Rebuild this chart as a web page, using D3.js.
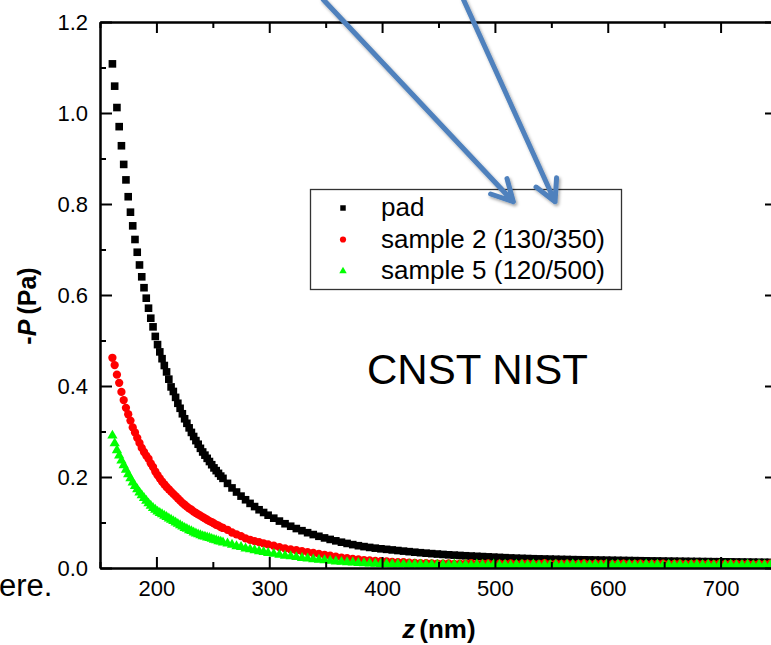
<!DOCTYPE html>
<html>
<head>
<meta charset="utf-8">
<script src="https://cdn.jsdelivr.net/npm/d3@7"></script>
<style>
  body { margin: 0; background: #fff; }
  svg { display: block; font-family: "Liberation Sans", Arial, sans-serif; }
</style>
</head>
<body>
<svg width="771" height="645"></svg>
<script>
// z (nm) - common grid for all three series
const zValues = [
  161,163,165,167,169,171,173,175,177,179,
  181,183,185,187,189,191,193,195,197,199,
  201,203,205,207,209,211,213,215,217,219,
  221,223,225,227,229,231,233,235,237,239,
  241,243,245,247,249,251,253,255,257,259,
  263,267,271,275,279,283,287,291,295,299,
  304,309,314,319,324,329,334,339,344,349,
  354,359,364,369,374,379,384,389,394,399,
  404,409,414,419,424,429,434,439,444,449,
  454,459,464,469,474,479,484,489,494,499,
  504,509,514,519,524,529,534,539,544,549,
  554,559,564,569,574,579,584,589,594,599,
  604,609,614,619,624,629,634,639,644,649,
  654,659,664,669,674,679,684,689,694,699,
  704,709,714,719,724,729,734,739,744,749
];

// -P (Pa), pad
const padValues = [
  1.108,1.059,1.012,0.970,0.928,0.887,0.853,0.816,0.782,0.752,
  0.722,0.694,0.666,0.640,0.616,0.593,0.571,0.549,0.530,0.509,
  0.491,0.475,0.460,0.445,0.431,0.415,0.398,0.388,0.375,0.362,
  0.351,0.339,0.328,0.318,0.308,0.298,0.289,0.280,0.272,0.263,
  0.255,0.248,0.241,0.234,0.227,0.220,0.214,0.208,0.202,0.197,
  0.186,0.176,0.167,0.158,0.150,0.142,0.135,0.128,0.122,0.116,
  0.1095,0.1031,0.0973,0.0918,0.0867,0.0820,0.0776,0.0735,0.0697,0.0661,
  0.0628,0.0597,0.0567,0.0540,0.0514,0.0490,0.0470,0.0452,0.0436,0.0422,
  0.0410,0.0397,0.0384,0.0371,0.0359,0.0347,0.0336,0.0326,0.0316,0.0307,
  0.0298,0.0290,0.0283,0.0276,0.0269,0.0263,0.0257,0.0251,0.0245,0.0239,
  0.0233,0.0227,0.0221,0.0216,0.0212,0.0208,0.0204,0.0201,0.0198,0.0195,
  0.0192,0.0189,0.0187,0.0184,0.0182,0.0180,0.0178,0.0176,0.0174,0.0172,
  0.0170,0.0168,0.0166,0.0164,0.0162,0.0160,0.0158,0.0156,0.0155,0.0153,
  0.0151,0.0150,0.0148,0.0147,0.0145,0.0144,0.0142,0.0141,0.0139,0.0138,
  0.0136,0.0135,0.0133,0.0132,0.0130,0.0129,0.0127,0.0126,0.0124,0.0123
];

// sample 2 (130/350)
const sample2Values = [
  0.462,0.446,0.425,0.407,0.387,0.369,0.352,0.338,0.324,0.309,
  0.298,0.286,0.275,0.264,0.255,0.247,0.240,0.230,0.222,0.212,
  0.204,0.197,0.190,0.184,0.178,0.173,0.168,0.163,0.158,0.153,
  0.148,0.143,0.139,0.135,0.131,0.128,0.124,0.121,0.118,0.115,
  0.112,0.109,0.106,0.103,0.101,0.098,0.095,0.093,0.090,0.088,
  0.084,0.078,0.074,0.070,0.065,0.062,0.059,0.057,0.054,0.052,
  0.049,0.046,0.043,0.041,0.039,0.037,0.035,0.033,0.031,0.029,
  0.027,0.025,0.023,0.0215,0.020,0.019,0.0175,0.0165,0.0158,0.015,
  0.0143,0.0136,0.013,0.0126,0.0118,0.0112,0.0108,0.0104,0.0101,0.0098,
  0.0095,0.0102,0.0089,0.0097,0.0093,0.0105,0.0088,0.0094,0.0099,0.0087,
  0.0096,0.0091,0.0101,0.0086,0.0093,0.0098,0.0089,0.0092,0.0104,0.0085,
  0.0094,0.0090,0.0097,0.0087,0.0092,0.0100,0.0086,0.0093,0.0089,0.0096,
  0.0084,0.0091,0.0098,0.0087,0.0090,0.0095,0.0083,0.0092,0.0088,0.0097,
  0.0085,0.0090,0.0094,0.0082,0.0089,0.0093,0.0086,0.0091,0.0084,0.0095,
  0.0083,0.0088,0.0092,0.0085,0.0089,0.0081,0.0090,0.0086,0.0093,0.0084
];

// sample 5 (120/500)
const sample5Values = [
  0.291,0.274,0.259,0.247,0.236,0.226,0.216,0.206,0.197,0.188,
  0.180,0.173,0.166,0.160,0.154,0.148,0.142,0.137,0.132,0.128,
  0.124,0.121,0.118,0.115,0.112,0.109,0.106,0.103,0.100,0.097,
  0.094,0.091,0.088,0.086,0.083,0.081,0.078,0.076,0.074,0.072,
  0.070,0.069,0.067,0.066,0.064,0.062,0.061,0.059,0.058,0.056,
  0.054,0.051,0.048,0.046,0.043,0.041,0.039,0.037,0.035,0.033,
  0.031,0.029,0.027,0.026,0.024,0.022,0.021,0.019,0.018,0.017,
  0.016,0.0145,0.0135,0.0125,0.012,0.0112,0.0105,0.0098,0.0094,0.0090,
  0.0087,0.0084,0.0082,0.0080,0.0078,0.0077,0.0076,0.0075,0.0074,0.0073,
  0.0072,0.0065,0.0078,0.0069,0.0074,0.0063,0.0076,0.0070,0.0067,0.0079,
  0.0068,0.0073,0.0062,0.0075,0.0071,0.0066,0.0077,0.0064,0.0072,0.0069,
  0.0074,0.0061,0.0070,0.0076,0.0065,0.0072,0.0068,0.0075,0.0063,0.0071,
  0.0067,0.0074,0.0060,0.0073,0.0069,0.0064,0.0076,0.0066,0.0070,0.0062,
  0.0072,0.0068,0.0075,0.0061,0.0069,0.0073,0.0065,0.0071,0.0063,0.0070,
  0.0066,0.0074,0.0062,0.0068,0.0072,0.0064,0.0070,0.0067,0.0061,0.0069
];

const seriesNames = ["pad", "sample 2 (130/350)", "sample 5 (120/500)"];
const seriesColors = ["#000000", "#ff0000", "#00ff00"];

// ticks
const xMajorTicks = [200, 300, 400, 500, 600, 700];
const xMinorTicks = [150, 250, 350, 450, 550, 650, 750];
const yMajorTicks = [0.0, 0.2, 0.4, 0.6, 0.8, 1.0, 1.2];
const yMinorTicks = [0.1, 0.3, 0.5, 0.7, 0.9, 1.1];

// blue arrows drawn over the chart (in data units: z, -P)
const arrowStarts = [[347.6, 1.25], [472.0, 1.25]];
const arrowTips = [[516.3, 0.805], [553.3, 0.805]];

const svg = d3.select("svg");
const area = { left: 100, right: 777, top: 22, bottom: 568 };

const scX = d3.scaleLinear().domain([150, 750]).range([area.left, area.right]);
const scY = d3.scaleLinear().domain([0, 1.2]).range([area.bottom, area.top]);

// series -> array of points
const allSeries = [padValues, sample2Values, sample5Values].map((vals, i) =>
  zValues.map((z, j) => ({ z: z, v: vals[j], k: i })));

const symbolTypes = [d3.symbolSquare, d3.symbolCircle, d3.symbolTriangle];
const symbolSizes = [58, 54, 46];

// markers
allSeries.forEach((pts, i) => {
  svg.append("g")
    .selectAll("path")
    .data(pts)
    .enter()
    .append("path")
    .attr("d", d3.symbol().type(symbolTypes[i]).size(symbolSizes[i]))
    .attr("transform", d => `translate(${scX(d.z)},${scY(d.v)})`)
    .style("fill", seriesColors[i]);
});

// axes, all ticks point inward
function drawAxis(axis, tx, ty, size, values, labels) {
  const g = svg.append("g")
    .attr("transform", `translate(${tx},${ty})`)
    .call(axis.tickValues(values).tickSize(size).tickSizeOuter(0)
      .tickPadding(labels ? 12 : 0)
      .tickFormat(labels ? d3.format(".1f") : ""));
  g.selectAll("path, line").attr("stroke", "#000").attr("stroke-width", 2);
  g.selectAll("text").style("font-size", "22px").attr("fill", "#000")
    .style("font-family", "'Liberation Sans', Arial, sans-serif");
  return g;
}

const gx = drawAxis(d3.axisBottom(scX), 0, area.bottom, -11, xMajorTicks, true);
gx.selectAll("text").text(d => d);
drawAxis(d3.axisBottom(scX), 0, area.bottom, -6, xMinorTicks, false);
drawAxis(d3.axisTop(scX), 0, area.top, -11, xMajorTicks, false);
drawAxis(d3.axisTop(scX), 0, area.top, -6, xMinorTicks, false);
drawAxis(d3.axisLeft(scY), area.left, 0, -12, yMajorTicks, true);
drawAxis(d3.axisLeft(scY), area.left, 0, -6, yMinorTicks, false);
drawAxis(d3.axisRight(scY), area.right, 0, -12, yMajorTicks, false);
drawAxis(d3.axisRight(scY), area.right, 0, -6, yMinorTicks, false);

// axis titles
const yTitle = svg.append("text")
  .attr("transform", "translate(36, 306) rotate(-90)")
  .attr("text-anchor", "middle")
  .style("font-size", "25px")
  .style("font-weight", "bold");
yTitle.append("tspan").text("-");
yTitle.append("tspan").style("font-style", "italic").text("P");
yTitle.append("tspan").attr("dx", 5).text("(Pa)");

const xTitle = svg.append("text")
  .attr("x", 439)
  .attr("y", 638)
  .attr("text-anchor", "middle")
  .style("font-size", "26px")
  .style("font-weight", "bold");
xTitle.append("tspan").style("font-style", "italic").text("z");
xTitle.append("tspan").attr("dx", 4).text("(nm)");

// legend
svg.append("rect")
  .attr("x", 310.5).attr("y", 189.5)
  .attr("width", 311).attr("height", 100)
  .attr("fill", "#fff")
  .attr("stroke", "#333")
  .attr("stroke-width", 1.3);

const legendSizes = [30, 30, 24];
seriesNames.forEach((name, i) => {
  const yBase = 216 + i * 31.5;
  svg.append("path")
    .attr("d", d3.symbol().type(symbolTypes[i]).size(legendSizes[i]))
    .attr("transform", `translate(343,${yBase - 8})`)
    .style("fill", seriesColors[i]);
  svg.append("text")
    .attr("x", 381)
    .attr("y", yBase)
    .style("font-size", "26px")
    .text(name);
});

svg.append("text")
  .attr("x", 367)
  .attr("y", 384)
  .style("font-size", "42px")
  .text("CNST NIST");

// slide text cut at the left edge
svg.append("text")
  .attr("x", -1)
  .attr("y", 596)
  .style("font-size", "31px")
  .text("ere.");

// arrows
const defs = svg.append("defs");
const shadow = defs.append("filter").attr("id", "shadow")
  .attr("x", "-20%").attr("y", "-20%").attr("width", "140%").attr("height", "140%");
shadow.append("feDropShadow")
  .attr("dx", 1.5).attr("dy", 2).attr("stdDeviation", 1.5)
  .attr("flood-color", "#000").attr("flood-opacity", 0.35);

arrowStarts.forEach((s, i) => {
  const x0 = scX(s[0]), y0 = scY(s[1]);
  const x1 = scX(arrowTips[i][0]), y1 = scY(arrowTips[i][1]);
  const ang = Math.atan2(y0 - y1, x0 - x1);
  const len = 24, spread = 28 * Math.PI / 180;
  const a1 = [x1 + len * Math.cos(ang - spread), y1 + len * Math.sin(ang - spread)];
  const a2 = [x1 + len * Math.cos(ang + spread), y1 + len * Math.sin(ang + spread)];
  svg.append("path")
    .attr("d", `M${x0},${y0}L${x1},${y1}M${a1[0]},${a1[1]}L${x1},${y1}L${a2[0]},${a2[1]}`)
    .attr("fill", "none")
    .attr("stroke", "#4f81bd")
    .attr("stroke-width", 5)
    .attr("stroke-linecap", "round")
    .attr("stroke-linejoin", "round")
    .attr("filter", "url(#shadow)");
});
</script>
</body>
</html>
